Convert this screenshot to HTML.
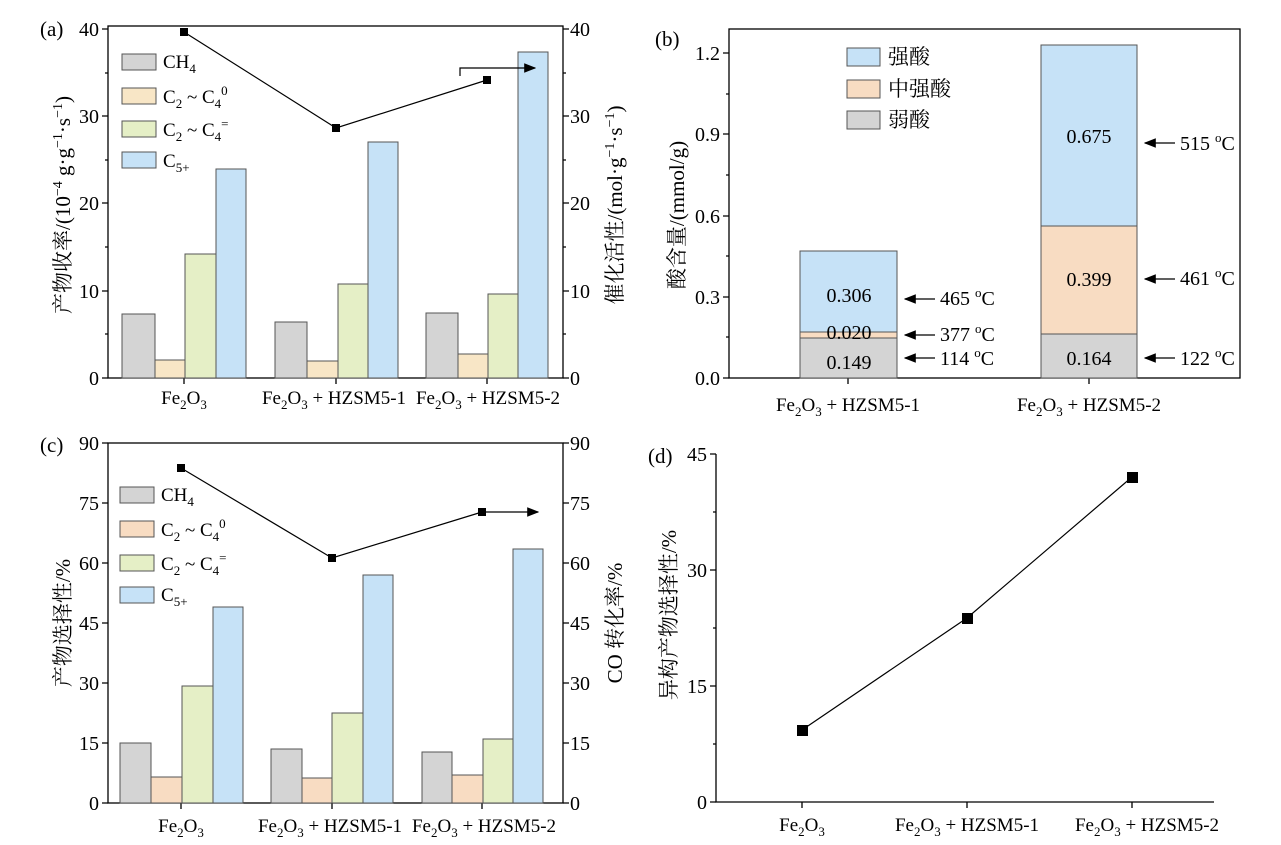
<!DOCTYPE html>
<html><head><meta charset="utf-8"><style>
body{margin:0;background:#fff}
svg{display:block;font-family:"Liberation Serif","Noto Serif CJK SC",serif;font-size:20px}
.cj{font-family:"Liberation Serif","Noto Serif CJK SC",serif;font-size:21px}
.b{stroke:#555;stroke-width:1}
</style></head><body>
<svg width="1281" height="845" viewBox="0 0 1281 845" xmlns="http://www.w3.org/2000/svg">
<defs><marker id="ar" markerWidth="10" markerHeight="8" refX="9" refY="4" orient="auto"><path d="M0,0L10,4L0,8z" fill="#000"/></marker></defs>
<g stroke="#000" fill="none" stroke-width="1.3">
<rect x="108" y="26" width="455" height="352"/>
<path d="M108,29h-6M108,116h-6M108,203h-6M108,291h-6M108,378h-6M108,73h-3M108,160h-3M108,247h-3M108,334h-3"/>
<path d="M563,29h6M563,116h6M563,203h6M563,291h6M563,378h6M563,73h3M563,160h3M563,247h3M563,334h3"/>
<path d="M184,378v6M336,378v6M487,378v6"/>
<rect x="729" y="29" width="511" height="349"/>
<path d="M729,378h-6M729,297h-6M729,216h-6M729,134h-6M729,53h-6M729,337h-3M729,256h-3M729,175h-3M729,94h-3"/>
<path d="M848,378v6M1089,378v6"/>
<rect x="108" y="443" width="455" height="360"/>
<path d="M108,443h-6M108,503h-6M108,563h-6M108,623h-6M108,683h-6M108,743h-6M108,803h-6"/>
<path d="M563,443h6M563,503h6M563,563h6M563,623h6M563,683h6M563,743h6M563,803h6"/>
<path d="M181,803v6M332,803v6M482,803v6"/>
<path d="M716,454v348h498"/>
<path d="M716,454h-6M716,570h-6M716,686h-6M716,802h-6M716,512h-3M716,628h-3M716,744h-3"/>
<path d="M802,802v6M967,802v6M1132,802v6"/>
</g>
<g class="b">
<rect x="122" y="314" width="33" height="64" fill="#d4d4d4"/>
<rect x="155" y="360" width="30" height="18" fill="#f8e6c6"/>
<rect x="185" y="254" width="31" height="124" fill="#e5efc6"/>
<rect x="216" y="169" width="30" height="209" fill="#c6e2f7"/>
<rect x="275" y="322" width="32" height="56" fill="#d4d4d4"/>
<rect x="307" y="361" width="31" height="17" fill="#f8e6c6"/>
<rect x="338" y="284" width="30" height="94" fill="#e5efc6"/>
<rect x="368" y="142" width="30" height="236" fill="#c6e2f7"/>
<rect x="426" y="313" width="32" height="65" fill="#d4d4d4"/>
<rect x="458" y="354" width="30" height="24" fill="#f8e6c6"/>
<rect x="488" y="294" width="30" height="84" fill="#e5efc6"/>
<rect x="518" y="52" width="30" height="326" fill="#c6e2f7"/>
<rect x="122" y="54" width="34" height="16" fill="#d4d4d4"/>
<rect x="122" y="88" width="34" height="16" fill="#f8e6c6"/>
<rect x="122" y="121" width="34" height="16" fill="#e5efc6"/>
<rect x="122" y="152" width="34" height="16" fill="#c6e2f7"/>
<rect x="800" y="338" width="97" height="40" fill="#d4d4d4"/>
<rect x="800" y="332" width="97" height="6" fill="#f8dcc2"/>
<rect x="800" y="251" width="97" height="81" fill="#c6e2f7"/>
<rect x="1041" y="334" width="96" height="44" fill="#d4d4d4"/>
<rect x="1041" y="226" width="96" height="108" fill="#f8dcc2"/>
<rect x="1041" y="45" width="96" height="181" fill="#c6e2f7"/>
<rect x="847" y="48" width="33" height="18" fill="#c6e2f7"/>
<rect x="847" y="80" width="33" height="18" fill="#f8dcc2"/>
<rect x="847" y="111" width="33" height="18" fill="#d4d4d4"/>
<rect x="120" y="743" width="31" height="60" fill="#d4d4d4"/>
<rect x="151" y="777" width="31" height="26" fill="#f8dcc2"/>
<rect x="182" y="686" width="31" height="117" fill="#e5efc6"/>
<rect x="213" y="607" width="30" height="196" fill="#c6e2f7"/>
<rect x="271" y="749" width="31" height="54" fill="#d4d4d4"/>
<rect x="302" y="778" width="30" height="25" fill="#f8dcc2"/>
<rect x="332" y="713" width="31" height="90" fill="#e5efc6"/>
<rect x="363" y="575" width="30" height="228" fill="#c6e2f7"/>
<rect x="422" y="752" width="30" height="51" fill="#d4d4d4"/>
<rect x="452" y="775" width="31" height="28" fill="#f8dcc2"/>
<rect x="483" y="739" width="30" height="64" fill="#e5efc6"/>
<rect x="513" y="549" width="30" height="254" fill="#c6e2f7"/>
<rect x="120" y="487" width="34" height="16" fill="#d4d4d4"/>
<rect x="120" y="521" width="34" height="16" fill="#f8dcc2"/>
<rect x="120" y="555" width="34" height="16" fill="#e5efc6"/>
<rect x="120" y="587" width="34" height="16" fill="#c6e2f7"/>
</g>
<g stroke="#000" fill="none" stroke-width="1.2">
<path d="M184,32L336,128L487,80"/>
<path d="M460,76V68H535" marker-end="url(#ar)"/>
<path d="M181,468L332,558L482,512"/>
<path d="M482,512H538" marker-end="url(#ar)"/>
<path d="M802,730L967,618L1132,477"/>
<path d="M935,299H905" marker-end="url(#ar)"/>
<path d="M935,335H905" marker-end="url(#ar)"/>
<path d="M935,358H905" marker-end="url(#ar)"/>
<path d="M1175,143H1145" marker-end="url(#ar)"/>
<path d="M1175,279H1145" marker-end="url(#ar)"/>
<path d="M1175,358H1145" marker-end="url(#ar)"/>
</g>
<g fill="#000">
<rect x="180" y="28" width="8" height="8"/><rect x="332" y="124" width="8" height="8"/><rect x="483" y="76" width="8" height="8"/>
<rect x="177" y="464" width="8" height="8"/><rect x="328" y="554" width="8" height="8"/><rect x="478" y="508" width="8" height="8"/>
<rect x="797" y="725" width="11" height="11"/><rect x="962" y="613" width="11" height="11"/><rect x="1127" y="472" width="11" height="11"/>
</g>
<g font-size="21">
<text x="40" y="36">(a)</text><text x="655" y="46">(b)</text><text x="40" y="452">(c)</text><text x="648" y="463">(d)</text>
</g>
<g text-anchor="end">
<text x="99" y="36">40</text><text x="99" y="123">30</text><text x="99" y="210">20</text><text x="99" y="298">10</text><text x="99" y="385">0</text>
<text x="720" y="60">1.2</text><text x="720" y="141">0.9</text><text x="720" y="223">0.6</text><text x="720" y="304">0.3</text><text x="720" y="385">0.0</text>
<text x="99" y="450">90</text><text x="99" y="510">75</text><text x="99" y="570">60</text><text x="99" y="630">45</text><text x="99" y="690">30</text><text x="99" y="750">15</text><text x="99" y="810">0</text>
<text x="707" y="461">45</text><text x="707" y="577">30</text><text x="707" y="693">15</text><text x="707" y="809">0</text>
</g>
<g>
<text x="570" y="36">40</text><text x="570" y="123">30</text><text x="570" y="210">20</text><text x="570" y="298">10</text><text x="570" y="385">0</text>
<text x="570" y="450">90</text><text x="570" y="510">75</text><text x="570" y="570">60</text><text x="570" y="630">45</text><text x="570" y="690">30</text><text x="570" y="750">15</text><text x="570" y="810">0</text>
</g>
<g font-size="19">
<text x="163" y="68">CH<tspan font-size="13" dy="5">4</tspan></text>
<text x="163" y="103">C<tspan font-size="13" dy="5">2</tspan><tspan dy="-5"> ~ C</tspan><tspan font-size="13" dy="5">4</tspan><tspan font-size="13" dy="-13">0</tspan></text>
<text x="163" y="136">C<tspan font-size="13" dy="5">2</tspan><tspan dy="-5"> ~ C</tspan><tspan font-size="13" dy="5">4</tspan><tspan font-size="13" dy="-13">=</tspan></text>
<text x="163" y="167">C<tspan font-size="13" dy="5">5+</tspan></text>
<text x="161" y="501">CH<tspan font-size="13" dy="5">4</tspan></text>
<text x="161" y="536">C<tspan font-size="13" dy="5">2</tspan><tspan dy="-5"> ~ C</tspan><tspan font-size="13" dy="5">4</tspan><tspan font-size="13" dy="-13">0</tspan></text>
<text x="161" y="570">C<tspan font-size="13" dy="5">2</tspan><tspan dy="-5"> ~ C</tspan><tspan font-size="13" dy="5">4</tspan><tspan font-size="13" dy="-13">=</tspan></text>
<text x="161" y="601">C<tspan font-size="13" dy="5">5+</tspan></text>
</g>
<g class="cj">
<text x="888" y="64">强酸</text><text x="888" y="96">中强酸</text><text x="888" y="127">弱酸</text>
</g>
<g text-anchor="middle">
<text x="849" y="302">0.306</text><text x="849" y="339">0.020</text><text x="849" y="369">0.149</text>
<text x="1089" y="143">0.675</text><text x="1089" y="286">0.399</text><text x="1089" y="365">0.164</text>
</g>
<g>
<text x="940" y="305">465 <tspan font-size="13" dy="-8">o</tspan><tspan dy="8">C</tspan></text>
<text x="940" y="341">377 <tspan font-size="13" dy="-8">o</tspan><tspan dy="8">C</tspan></text>
<text x="940" y="365">114 <tspan font-size="13" dy="-8">o</tspan><tspan dy="8">C</tspan></text>
<text x="1180" y="150">515 <tspan font-size="13" dy="-8">o</tspan><tspan dy="8">C</tspan></text>
<text x="1180" y="285">461 <tspan font-size="13" dy="-8">o</tspan><tspan dy="8">C</tspan></text>
<text x="1180" y="365">122 <tspan font-size="13" dy="-8">o</tspan><tspan dy="8">C</tspan></text>
</g>
<g text-anchor="middle" font-size="19">
<text x="184" y="404">Fe<tspan font-size="13" dy="5">2</tspan><tspan dy="-5">O</tspan><tspan font-size="13" dy="5">3</tspan></text>
<text x="334" y="404">Fe<tspan font-size="13" dy="5">2</tspan><tspan dy="-5">O</tspan><tspan font-size="13" dy="5">3</tspan><tspan dy="-5"> + HZSM5-1</tspan></text>
<text x="488" y="404">Fe<tspan font-size="13" dy="5">2</tspan><tspan dy="-5">O</tspan><tspan font-size="13" dy="5">3</tspan><tspan dy="-5"> + HZSM5-2</tspan></text>
<text x="848" y="411">Fe<tspan font-size="13" dy="5">2</tspan><tspan dy="-5">O</tspan><tspan font-size="13" dy="5">3</tspan><tspan dy="-5"> + HZSM5-1</tspan></text>
<text x="1089" y="411">Fe<tspan font-size="13" dy="5">2</tspan><tspan dy="-5">O</tspan><tspan font-size="13" dy="5">3</tspan><tspan dy="-5"> + HZSM5-2</tspan></text>
<text x="181" y="832">Fe<tspan font-size="13" dy="5">2</tspan><tspan dy="-5">O</tspan><tspan font-size="13" dy="5">3</tspan></text>
<text x="330" y="832">Fe<tspan font-size="13" dy="5">2</tspan><tspan dy="-5">O</tspan><tspan font-size="13" dy="5">3</tspan><tspan dy="-5"> + HZSM5-1</tspan></text>
<text x="484" y="832">Fe<tspan font-size="13" dy="5">2</tspan><tspan dy="-5">O</tspan><tspan font-size="13" dy="5">3</tspan><tspan dy="-5"> + HZSM5-2</tspan></text>
<text x="802" y="831">Fe<tspan font-size="13" dy="5">2</tspan><tspan dy="-5">O</tspan><tspan font-size="13" dy="5">3</tspan></text>
<text x="967" y="831">Fe<tspan font-size="13" dy="5">2</tspan><tspan dy="-5">O</tspan><tspan font-size="13" dy="5">3</tspan><tspan dy="-5"> + HZSM5-1</tspan></text>
<text x="1147" y="831">Fe<tspan font-size="13" dy="5">2</tspan><tspan dy="-5">O</tspan><tspan font-size="13" dy="5">3</tspan><tspan dy="-5"> + HZSM5-2</tspan></text>
</g>
<g class="cj" text-anchor="middle">
<text transform="translate(70,205) rotate(-90)">产物收率/(10<tspan font-size="14" dy="-8">−4</tspan><tspan dy="8"> g·g</tspan><tspan font-size="14" dy="-8">−1</tspan><tspan dy="8">·s</tspan><tspan font-size="14" dy="-8">−1</tspan><tspan dy="8">)</tspan></text>
<text transform="translate(622,205) rotate(-90)">催化活性/(mol·g<tspan font-size="14" dy="-8">−1</tspan><tspan dy="8">·s</tspan><tspan font-size="14" dy="-8">−1</tspan><tspan dy="8">)</tspan></text>
<text transform="translate(684,215) rotate(-90)">酸含量/(mmol/g)</text>
<text transform="translate(70,623) rotate(-90)">产物选择性/%</text>
<text transform="translate(622,623) rotate(-90)">CO 转化率/%</text>
<text transform="translate(676,615) rotate(-90)">异构产物选择性/%</text>
</g>
</svg>
</body></html>
